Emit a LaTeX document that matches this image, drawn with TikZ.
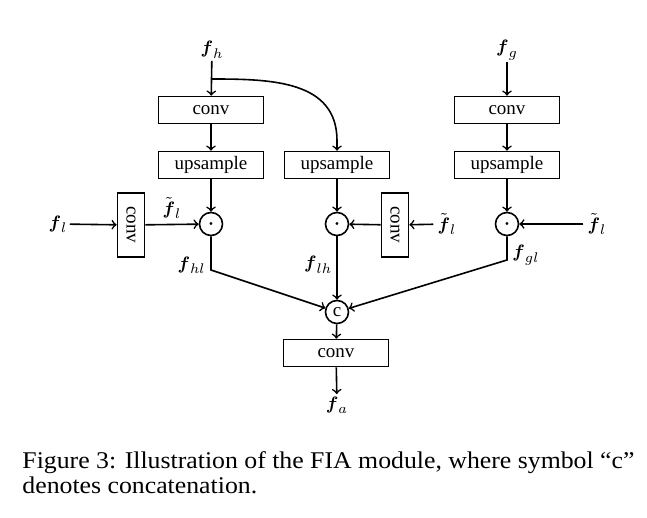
\documentclass[tikz,border=0pt]{standalone}
\usepackage{amsmath}
\usepackage{fontspec}
\setmainfont{Liberation Serif}
\usetikzlibrary{positioning}
\tikzset{
  blk/.style={draw,thick,minimum width=52.5pt,minimum height=13.5pt,inner sep=0pt,font=\fontsize{9.5}{11}\selectfont},
  vblk/.style={draw,thick,minimum width=13.5pt,minimum height=32pt,inner sep=0pt,font=\fontsize{9.5}{11}\selectfont},
  op/.style={draw,thick,circle,minimum size=11.5pt,inner sep=0pt,font=\fontsize{9.5}{11}\selectfont},
  lbl/.style={inner sep=1pt,font=\fontsize{9.5}{11}\selectfont},
  arr/.style={->,thick}
}
\newcommand{\fb}[1]{$\boldsymbol{f}_{#1}$}
\newcommand{\ftl}{$\tilde{\boldsymbol{f}}_{l}$}
\begin{document}
\begin{tikzpicture}[x=0.5pt,y=-0.5pt]
        \useasboundingbox (0,0) rectangle (647,518);
        % inputs
        \node[lbl] (fh) at (212,50) {\fb{h}};
        \node[lbl] (fg) at (507,50) {\fb{g}};
        \node[lbl] (fl) at (58,224) {\fb{l}};
        % left branch
        \node[blk] (convh) at (211,110) {conv};
        \node[blk] (uph) at (211,165) {upsample};
        \node[op] (dotl) at (211,224) {$\boldsymbol{\cdot}$};
        \node[vblk] (convl) at (131,225) {\rotatebox{-90}{conv}};
        % middle branch
        \node[blk] (upm) at (337,165) {upsample};
        \node[op] (dotm) at (337,224) {$\boldsymbol{\cdot}$};
        \node[vblk] (convm) at (395,225) {\rotatebox{-90}{conv}};
        \node[lbl,inner sep=2pt] (ftlm) at (447,224) {\ftl};
        % right branch
        \node[blk] (convg) at (507,110) {conv};
        \node[blk] (upg) at (507,165) {upsample};
        \node[op] (dotr) at (507,224) {$\boldsymbol{\cdot}$};
        \node[lbl,inner sep=2pt] (ftlr) at (597,224) {\ftl};
        % fusion
        \node[op] (cat) at (337,312) {c};
        \node[blk] (conva) at (336,353) {conv};
        \node[lbl] (fa) at (337,405) {\fb{a}};
        \coordinate (split) at (212,79);
        \coordinate (bendl) at (211,270);
        \coordinate (bendr) at (507,260);

        \draw[arr] (fh) -- (convh);
        \draw[thick] (split) to[out=0,in=90,looseness=1.1] ([yshift=5pt]upm.north);
        \draw[arr] ([yshift=5.5pt]upm.north) -- (upm);
        \draw[arr] (convh) -- (uph);
        \draw[arr] (uph) -- (dotl);
        \draw[arr] (fl) -- (convl);
        \draw[arr] (convl) -- node[lbl,above=1.5pt] {\ftl} (dotl);
        \draw[arr] (upm) -- (dotm);
        \draw[arr] (ftlm) -- (convm);
        \draw[arr] (convm) -- (dotm);
        \draw[arr] (fg) -- (convg);
        \draw[arr] (convg) -- (upg);
        \draw[arr] (upg) -- (dotr);
        \draw[arr] (ftlr) -- (dotr);
        % to concatenation
        \draw[arr] (dotl) -- (bendl) -- (cat);
        \draw[arr] (dotm) -- node[lbl,pos=0.45,left=1pt] {\fb{lh}} (cat);
        \draw[arr] (dotr) -- (bendr) -- (cat);
        \node[lbl,anchor=east] at (208,265) {\fb{hl}};
        \node[lbl,anchor=west] at (510,255) {\fb{gl}};
        \draw[arr] (cat) -- (conva);
        \draw[arr] (conva) -- (fa);

        \node[anchor=base west,inner sep=0pt,align=left,xscale=1.074,transform shape,font=\fontsize{12}{12.5}\selectfont] (cap) at (22,493)
          {Figure 3: Illustration of the FIA module, where symbol “c”\\denotes concatenation.};
\end{tikzpicture}
\end{document}
